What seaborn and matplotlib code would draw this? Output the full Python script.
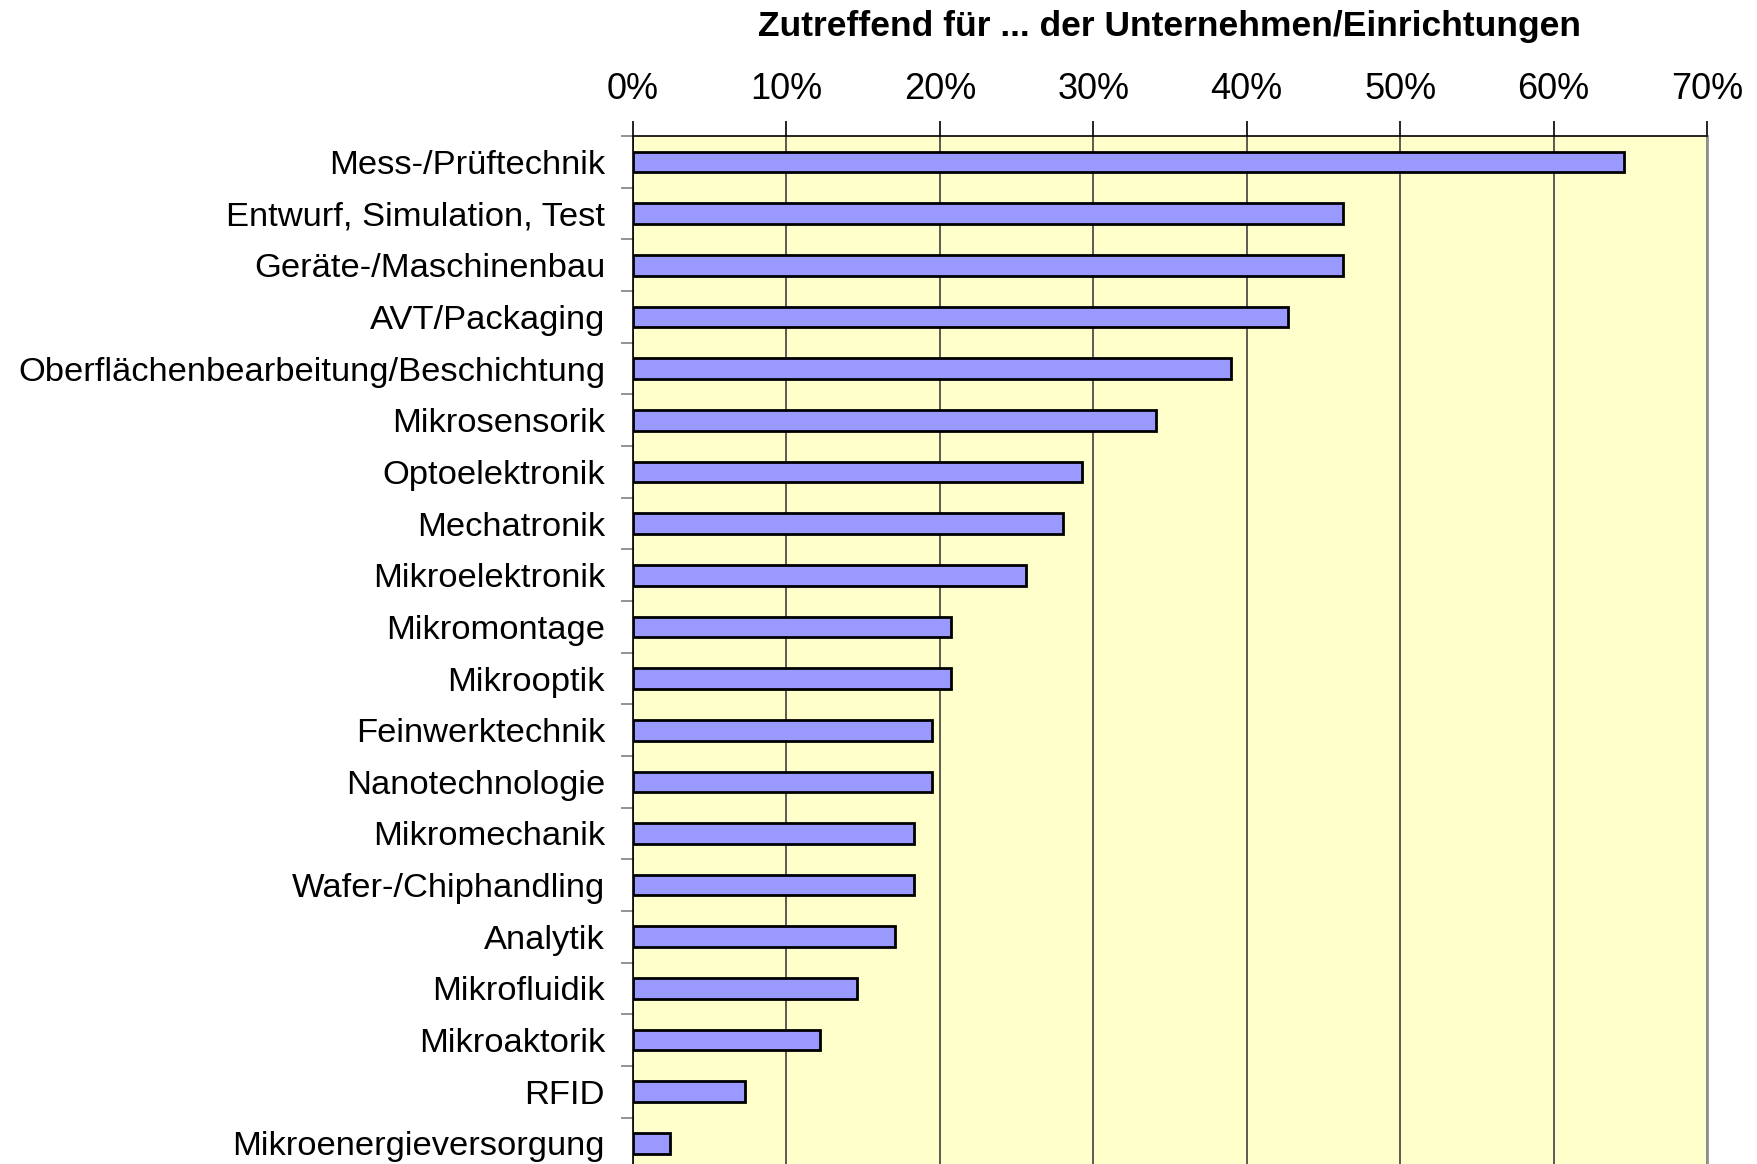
"""Horizontal bar chart: Zutreffend für ... der Unternehmen/Einrichtungen."""

import numpy as np
import pandas as pd
import matplotlib
matplotlib.use("Agg")
import matplotlib.pyplot as plt
import matplotlib.ticker as mticker
import seaborn as sns

categories = [
    "Mess-/Prüftechnik",
    "Entwurf, Simulation, Test",
    "Geräte-/Maschinenbau",
    "AVT/Packaging",
    "Oberflächenbearbeitung/Beschichtung",
    "Mikrosensorik",
    "Optoelektronik",
    "Mechatronik",
    "Mikroelektronik",
    "Mikromontage",
    "Mikrooptik",
    "Feinwerktechnik",
    "Nanotechnologie",
    "Mikromechanik",
    "Wafer-/Chiphandling",
    "Analytik",
    "Mikrofluidik",
    "Mikroaktorik",
    "RFID",
    "Mikroenergieversorgung",
]
share = [64.6, 46.3, 46.3, 42.7, 39.0, 34.1, 29.3, 28.0, 25.6, 20.7,
         20.7, 19.5, 19.5, 18.3, 18.3, 17.1, 14.6, 12.2, 7.3, 2.4]
x_ticks = [0, 10, 20, 30, 40, 50, 60, 70]

sns.set_theme(style="white")
plt.rcParams["font.family"] = ["Liberation Sans", "DejaVu Sans"]
plt.rcParams.update({"text.color": "black", "axes.labelcolor": "black",
                     "xtick.color": "black", "ytick.color": "black"})

df = pd.DataFrame({"kategorie": categories, "anteil": share})

fig = plt.figure(figsize=(17.58, 11.64), dpi=100)
ax = fig.add_axes([0.360, -0.0045, 0.611, 0.8875])
ax.set_facecolor("#FFFFCC")

sns.barplot(
    data=df, x="anteil", y="kategorie", order=categories,
    color="#9999FF", edgecolor="black", linewidth=2.0,
    width=0.4, saturation=1, ax=ax, zorder=3,
)

ax.set_xlim(0, 70)
ax.set_ylim(len(categories) - 0.5, -0.5)
ax.xaxis.tick_top()
ax.xaxis.set_label_position("top")
ax.set_xticks(x_ticks)
ax.xaxis.set_major_formatter(mticker.FuncFormatter(lambda v, _: f"{v:.0f}%"))
ax.grid(axis="x", color="#404040", linewidth=1.2, zorder=1)
ax.set_axisbelow(True)

ax.set_xlabel("Zutreffend für ... der Unternehmen/Einrichtungen",
              fontsize=25.5, fontweight="bold", labelpad=26)
ax.set_ylabel("")

ax.tick_params(axis="x", top=True, bottom=False, direction="out",
               length=11, width=1.2, color="black", labelsize=26, pad=10,
               labelcolor="black")
ax.tick_params(axis="y", which="major", left=False, labelsize=24.8, pad=14,
               labelcolor="black")
ax.yaxis.set_minor_locator(mticker.FixedLocator(np.arange(-0.5, len(categories), 1.0)))
ax.tick_params(axis="y", which="minor", left=True, direction="out",
               length=9, width=1.2, color="#808080")

for side in ["top", "left"]:
    ax.spines[side].set_color("black")
    ax.spines[side].set_linewidth(1.2)
ax.spines["right"].set_color("#909090")
ax.spines["right"].set_linewidth(2)
ax.spines["bottom"].set_visible(False)

fig.savefig("out.png", dpi=100)
